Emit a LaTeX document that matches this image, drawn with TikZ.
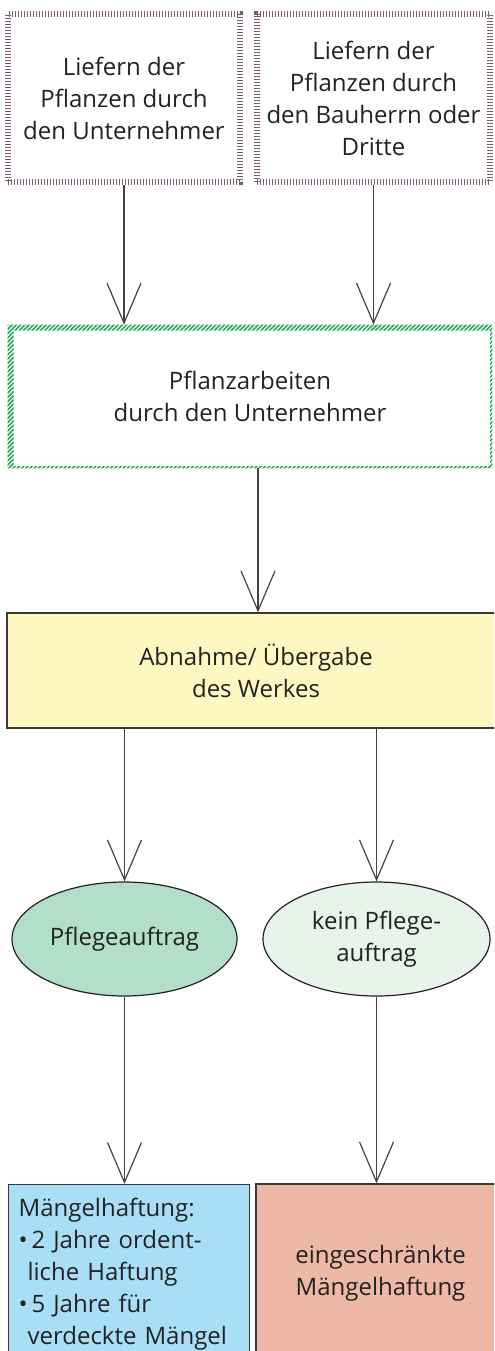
\documentclass[tikz,border=0pt]{standalone}
\usepackage{fontspec}
\setmainfont{Open Sans}
\usepackage{xcolor}
\usetikzlibrary{shapes.geometric}
\usetikzlibrary{arrows.meta}
\usetikzlibrary{patterns.meta}

\definecolor{hatchbrown}{HTML}{7A605B}
\definecolor{hatchgreen}{HTML}{1FA855}
\definecolor{abnahmefill}{HTML}{FFF8C2}
\definecolor{pflegefill}{HTML}{B2DECA}
\definecolor{keinfill}{HTML}{E7F4EC}
\definecolor{haftfill}{HTML}{A9DFF6}
\definecolor{eingfill}{HTML}{EDB8A6}
\definecolor{ink}{HTML}{222222}

\begin{document}
\begin{tikzpicture}[
  x=0.5pt, y=-0.5pt,
  every node/.style={font=\fontsize{12}{16}\selectfont, text=ink, align=center, inner sep=0pt},
  liefer/.style={rectangle, draw=hatchbrown, line width=2.8pt, dash pattern=on 0.7pt off 0.8pt,
    minimum height=84pt},
  plainbox/.style={rectangle, draw=ink!90, line width=0.6pt},
  oval/.style={ellipse, draw=ink, line width=0.6pt, minimum height=57pt},
  arr/.style={draw=ink!85, line width=0.6pt, -{Straight Barb[length=20pt, width=17pt, line width=0.6pt]}}
]
\useasboundingbox (0,0) rectangle (494,1351);
\clip (0,0) rectangle (494,1351);

% oben: Lieferung
\node[liefer, minimum width=116pt] (lief1) at (124,98)
  {Liefern der\\Pflanzen durch\\den Unternehmer};
\node[liefer, minimum width=116.5pt] (lief2) at (373.5,98)
  {Liefern der\\Pflanzen durch\\den Bauherrn oder\\Dritte};

% Pflanzarbeiten, gruen schraffierter Rahmen
\node[minimum width=242pt, minimum height=71.5pt] (pflanz) at (250,396.5)
  {Pflanzarbeiten\\durch den Unternehmer};
\fill[pattern={Lines[angle=45, distance=1.5pt, line width=0.8pt]}, pattern color=hatchgreen, even odd rule]
  (pflanz.north west) rectangle (pflanz.south east)
  ([shift={(3pt,-3pt)}]pflanz.north west) rectangle ([shift={(-1.2pt,1.2pt)}]pflanz.south east);

% Abnahme
\node[plainbox, fill=abnahmefill, minimum width=249pt, minimum height=57.5pt] (abnahme) at (256,670.5)
  {Abnahme/ Übergabe\\des Werkes};

% Pflege ja / nein
\node[oval, fill=pflegefill, minimum width=112.5pt] (pflege) at (124.5,939) {Pflegeauftrag};
\node[oval, fill=keinfill, minimum width=113.5pt] (keinpflege) at (376.5,939) {kein Pflege-\\auftrag};

% Haftung
\node[plainbox, fill=haftfill, anchor=north west, align=left, text width=110.5pt,
  inner xsep=5pt, inner ysep=6pt, minimum height=90pt] (haft) at (8,1184)
  {Mängelhaftung:\\
   •\,2 Jahre ordent-\\
   \hspace*{4.5pt}liche Haftung\\
   •\,5 Jahre für\\
   \hspace*{4.5pt}verdeckte Mängel};
\node[plainbox, fill=eingfill, minimum width=124.5pt, minimum height=89pt] (eingeschr) at (380.5,1273)
  {eingeschränkte\\Mängelhaftung};

% Verbindungen
\draw[arr] (lief1.south) -- (lief1.south |- pflanz.north);
\draw[arr] (lief2.south) -- (lief2.south |- pflanz.north);
\draw[arr] ([xshift=4pt]pflanz.south) -- ([xshift=4pt]pflanz.south |- abnahme.north);
\draw[arr] (abnahme.south -| pflege.north) -- (pflege.north);
\draw[arr] (abnahme.south -| keinpflege.north) -- (keinpflege.north);
\draw[arr] (pflege.south) -- (pflege.south |- haft.north);
\draw[arr] (keinpflege.south) -- (keinpflege.south |- eingeschr.north);
\end{tikzpicture}
\end{document}
